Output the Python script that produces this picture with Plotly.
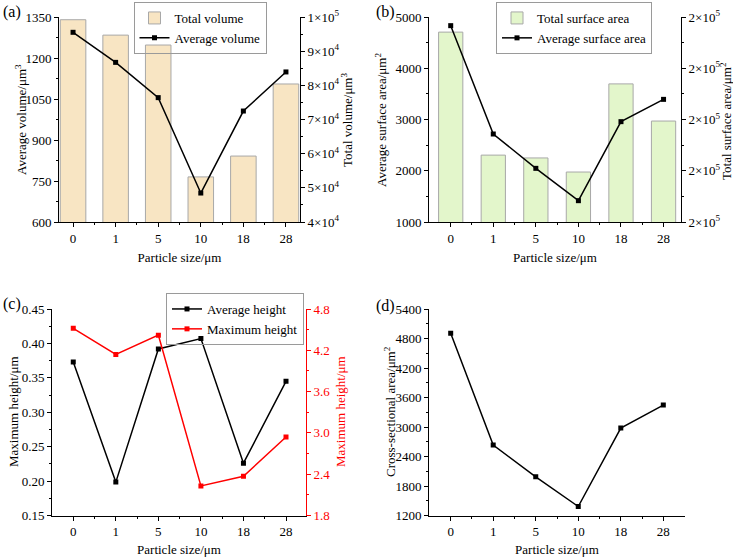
import plotly.graph_objects as go

# ---------------- data ----------------
categories = ["0", "1", "5", "10", "18", "28"]
total_volume = [99200, 94700, 91800, 53200, 59300, 80400]
avg_volume = [1294, 1184, 1055, 706, 1006, 1149]
total_surface = [234100, 186100, 185000, 179500, 213900, 199400]
avg_surface = [4831, 2717, 2047, 1416, 2958, 3393]
avg_height = [0.373, 0.1985, 0.392, 0.407, 0.226, 0.345]
max_height = [4.52, 4.14, 4.42, 2.23, 2.37, 2.94]
cross_area = [4905, 2632, 1987, 1383, 2978, 3446]

vol_ticks = [40000, 50000, 60000, 70000, 80000, 90000, 100000]
surf_ticks = [160000, 180000, 200000, 220000, 240000]

W, H = 733, 557
FONT = "Liberation Serif"
x = list(range(len(categories)))
minor_x = [i + 0.5 for i in range(len(categories) - 1)]


def sci_label(v):
    e = len(str(int(abs(v)))) - 1
    m = int(round(v / 10 ** e))
    return f"{m}×10<sup>{e}</sup>"


def px_x(a, b):
    return [a / W, b / W]


def px_y(top, bottom):
    return [1 - bottom / H, 1 - top / H]


fig = go.Figure()

# (a)
fig.add_trace(go.Bar(x=x, y=total_volume, name="Total volume", xaxis="x", yaxis="y",
                     width=0.6, marker=dict(color="#F8E5C3", line=dict(color="#A8A8A8", width=1)),
                     legend="legend"))
fig.add_trace(go.Scatter(x=x, y=avg_volume, name="Average volume", xaxis="x", yaxis="y2",
                         mode="lines+markers", line=dict(color="black", width=1.5),
                         marker=dict(symbol="square", size=5, color="black"), legend="legend"))
# (b)
fig.add_trace(go.Bar(x=x, y=total_surface, name="Total surface area", xaxis="x2", yaxis="y3",
                     width=0.57, marker=dict(color="#E3F6CB", line=dict(color="#A8A8A8", width=1)),
                     legend="legend2"))
fig.add_trace(go.Scatter(x=x, y=avg_surface, name="Average surface area", xaxis="x2", yaxis="y4",
                         mode="lines+markers", line=dict(color="black", width=1.5),
                         marker=dict(symbol="square", size=5, color="black"), legend="legend2"))
# (c)
fig.add_trace(go.Scatter(x=x, y=avg_height, name="Average height", xaxis="x3", yaxis="y5",
                         mode="lines+markers", line=dict(color="black", width=1.5),
                         marker=dict(symbol="square", size=5, color="black"), legend="legend3"))
fig.add_trace(go.Scatter(x=x, y=max_height, name="Maximum height", xaxis="x3", yaxis="y6",
                         mode="lines+markers", line=dict(color="red", width=1.5),
                         marker=dict(symbol="square", size=5, color="red"), legend="legend3"))
# (d)
fig.add_trace(go.Scatter(x=x, y=cross_area, name="Cross-sectional area", xaxis="x4", yaxis="y7",
                         mode="lines+markers", line=dict(color="black", width=1.5),
                         marker=dict(symbol="square", size=5, color="black"), showlegend=False))

tickfont = dict(family=FONT, size=13, color="black")
titlefont = dict(family=FONT, size=13, color="black")


def xaxis_cfg(domain, anchor, rng):
    return dict(domain=domain, anchor=anchor, range=rng, tickmode="array", tickvals=x,
                ticktext=categories, ticks="outside", ticklen=4, tickwidth=1, tickcolor="black",
                showline=True, linecolor="black", linewidth=1, showgrid=False, zeroline=False,
                tickfont=tickfont,
                title=dict(text="Particle size/μm", font=titlefont, standoff=8),
                minor=dict(tickmode="array", tickvals=minor_x, ticks="outside", ticklen=2,
                           tickcolor="black"),
                automargin=False)


def yaxis_cfg(domain, anchor, rng, dtick, side, color="black", overlaying=None,
              tickvals=None, ticktext=None, tickformat=None):
    d = dict(anchor=anchor, range=rng, side=side, ticks="outside", ticklen=4, tickwidth=1,
             tickcolor=color, showline=True, linecolor=color, linewidth=1, showgrid=False,
             zeroline=False, tickfont=dict(family=FONT, size=13, color=color),
             minor=dict(dtick=dtick / 2, tick0=rng[0], ticks="outside", ticklen=2, tickcolor=color),
             automargin=False)
    if tickvals is not None:
        d.update(tickmode="array", tickvals=tickvals, ticktext=ticktext)
    else:
        d.update(tickmode="linear", tick0=rng[0], dtick=dtick)
    if tickformat:
        d["tickformat"] = tickformat
    if overlaying:
        d["overlaying"] = overlaying
    else:
        d["domain"] = domain
    return d


dom_a_x = px_x(59, 300)
dom_b_x = px_x(429, 681)
dom_c_x = px_x(52, 306)
dom_d_x = px_x(429, 685)
dom_top_y = px_y(17, 222)
dom_bot_y = px_y(309, 515.5)

legend_common = dict(font=dict(family=FONT, size=13, color="black"), bordercolor="#9A9A9A",
                     borderwidth=1, bgcolor="rgba(255,255,255,0)", xanchor="center", yanchor="top",
                     tracegroupgap=0, itemwidth=30)

fig.update_layout(
    width=W, height=H, margin=dict(l=0, r=0, t=0, b=0),
    paper_bgcolor="white", plot_bgcolor="white",
    font=dict(family=FONT, size=13, color="black"),
    xaxis=xaxis_cfg(dom_a_x, "y", [-0.33, 5.33]),
    yaxis=yaxis_cfg(dom_top_y, "x", [40000, 100000], 10000, "right",
                    tickvals=vol_ticks, ticktext=[sci_label(v) for v in vol_ticks]),
    yaxis2=yaxis_cfg(None, "x", [600, 1350], 150, "left", overlaying="y"),
    xaxis2=xaxis_cfg(dom_b_x, "y3", [-0.51, 5.41]),
    yaxis3=yaxis_cfg(dom_top_y, "x2", [160000, 240000], 20000, "right",
                     tickvals=surf_ticks, ticktext=[sci_label(v) for v in surf_ticks]),
    yaxis4=yaxis_cfg(None, "x2", [1000, 5000], 1000, "left", overlaying="y3"),
    xaxis3=xaxis_cfg(dom_c_x, "y5", [-0.5, 5.47]),
    yaxis5=yaxis_cfg(dom_bot_y, "x3", [0.15, 0.45], 0.05, "left", tickformat=".2f"),
    yaxis6=yaxis_cfg(None, "x3", [1.8, 4.8], 0.6, "right", color="red", overlaying="y5",
                     tickformat=".1f"),
    xaxis4=xaxis_cfg(dom_d_x, "y7", [-0.51, 5.51]),
    yaxis7=yaxis_cfg(dom_bot_y, "x4", [1200, 5400], 600, "left"),
    legend=dict(x=200 / W, y=1 - 2 / H, **legend_common),
    legend2=dict(x=574 / W, y=1 - 2 / H, **legend_common),
    legend3=dict(x=235 / W, y=1 - 293 / H, **legend_common),
)

for label, lx, ly in [("(a)", 1, 1), ("(b)", 374, 1), ("(c)", 1, 293), ("(d)", 374, 295)]:
    fig.add_annotation(text=label, xref="paper", yref="paper", x=lx / W, y=1 - ly / H,
                       xanchor="left", yanchor="top", showarrow=False,
                       font=dict(family=FONT, size=16, color="black"))

# y-axis titles (rotated), placed at their centres
ytitles = [
    ("Average volume/μm<sup>3</sup>", 21, 120, "black"),
    ("Total volume/μm<sup>3</sup>", 347, 120, "black"),
    ("Average surface area/μm<sup>2</sup>", 381, 120, "black"),
    ("Total surface area/μm<sup>2</sup>", 726, 121, "black"),
    ("Maximum height/μm", 13, 412, "black"),
    ("Maximum height/μm", 340, 412, "red"),
    ("Cross-sectional area/μm<sup>2</sup>", 390, 412, "black"),
]
for text, tx, ty, col in ytitles:
    fig.add_annotation(text=text, xref="paper", yref="paper", x=tx / W, y=1 - ty / H,
                       xanchor="center", yanchor="middle", textangle=-90, showarrow=False,
                       font=dict(family=FONT, size=13, color=col))

fig.write_html("out.html")
